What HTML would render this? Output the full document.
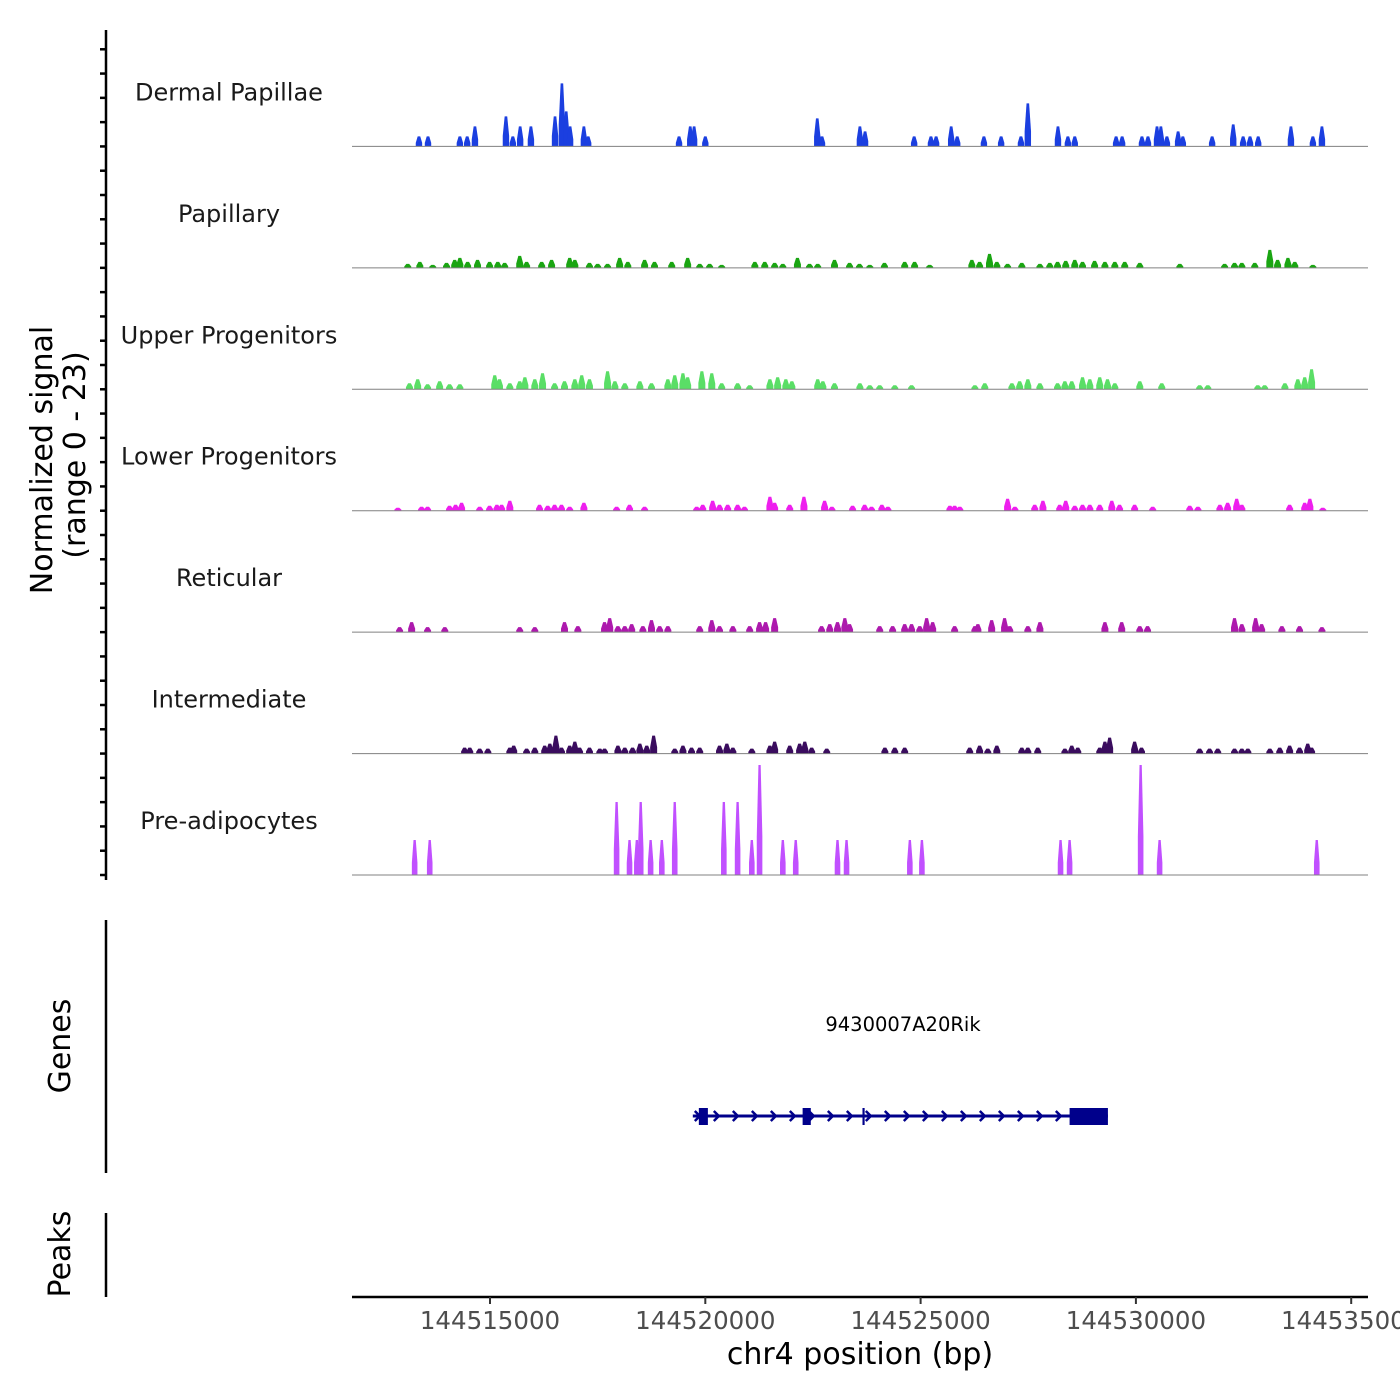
<!DOCTYPE html>
<html><head><meta charset="utf-8"><style>
html,body{margin:0;padding:0;background:#fff;}
svg{display:block;font-family:"DejaVu Sans","Liberation Sans",sans-serif;}
</style></head><body>
<svg id="chart" width="1400" height="1400" viewBox="0 0 1400 1400" xmlns="http://www.w3.org/2000/svg">
<g id="tracks"></g>
<g id="yaxis">
<line x1="106" y1="30" x2="106" y2="880" stroke="#000" stroke-width="2.5"/>
</g>
<text transform="translate(52,460) rotate(-90)" text-anchor="middle" font-size="30" fill="#000">Normalized signal</text>
<text transform="translate(85,455) rotate(-90)" text-anchor="middle" font-size="30" fill="#000">(range 0 - 23)</text>
<line x1="106" y1="920" x2="106" y2="1173" stroke="#000" stroke-width="2.5"/>
<text transform="translate(70,1046) rotate(-90)" text-anchor="middle" font-size="30" fill="#000">Genes</text>
<line x1="106" y1="1213" x2="106" y2="1297" stroke="#000" stroke-width="2.5"/>
<text transform="translate(70,1254) rotate(-90)" text-anchor="middle" font-size="30" fill="#000">Peaks</text>
<g id="gene"></g>
<text x="903" y="1031" text-anchor="middle" font-size="19.5" fill="#000">9430007A20Rik</text>
<g id="xaxis"></g>
<text x="860" y="1364" text-anchor="middle" font-size="30" fill="#000">chr4 position (bp)</text>
</svg>
<script>
// genomic positions in kb offset from 144510000
const trackNames = ["Dermal Papillae","Papillary","Upper Progenitors","Lower Progenitors","Reticular","Intermediate","Pre-adipocytes"];
const dermalPos = [3.35,3.56,4.30,4.47,4.65,5.37,5.53,5.70,5.95,6.51,6.67,6.77,6.86,7.18,7.28,9.39,9.65,9.74,10.0,12.6,12.71,13.59,13.71,14.85,15.24,15.36,15.71,15.85,16.47,16.87,17.33,17.49,18.19,18.42,18.58,19.54,19.68,20.14,20.28,20.49,20.58,20.72,20.98,21.09,21.77,22.26,22.49,22.65,22.84,23.6,24.11,24.32];
const dermalVal = [2,2,2,2,4,6,2,4,4,6,12.6,7,4,4,2,2,4,4,2,5.6,2,4,3,2,2,2,4,2,2,2,2,8.6,4,2,2,2,2,2,2,4,4,2,3,2,2,4.4,2,2,2,4,2,4];
const papPos = [3.09,3.37,3.67,3.99,4.18,4.30,4.48,4.71,4.99,5.18,5.34,5.69,5.85,6.20,6.43,6.85,6.97,7.31,7.50,7.73,8.01,8.20,8.59,8.82,9.22,9.59,9.87,10.10,10.38,11.15,11.38,11.61,11.80,12.14,12.42,12.61,13.00,13.35,13.58,13.82,14.16,14.63,14.86,15.21,16.19,16.37,16.60,16.77,17.02,17.35,17.77,18.00,18.18,18.37,18.58,18.76,19.04,19.28,19.51,19.74,20.09,21.02,22.06,22.29,22.46,22.76,23.11,23.29,23.53,23.69,24.11];
const papVal = [0.8,1.2,0.6,1,1.6,2,1.2,1.6,1.2,1.2,1,2.4,1.2,1.2,1.6,2,1.6,1,0.8,0.8,2,1.2,1.6,1.2,1.2,2,0.8,0.8,0.6,1.2,1.2,1,0.8,2,0.8,0.8,1.6,1,0.8,0.6,1,1.2,1.2,0.6,1.6,1.2,2.8,1.2,0.8,1,0.8,1,1.2,1.4,1.6,1.2,1.4,1.2,1.2,1.2,1,0.8,0.8,1,1,1,3.6,1.6,2,1.2,0.6];
const upPos = [3.13,3.32,3.55,3.83,4.06,4.30,5.11,5.22,5.46,5.69,5.81,6.04,6.22,6.50,6.73,6.97,7.13,7.31,7.73,7.90,8.13,8.48,8.75,9.13,9.29,9.48,9.59,9.92,10.15,10.38,10.75,11.03,11.50,11.68,11.87,12.01,12.61,12.73,13.00,13.59,13.82,14.05,14.40,14.79,16.26,16.49,17.12,17.30,17.49,17.77,18.18,18.35,18.51,18.76,18.93,19.16,19.34,19.51,20.09,20.60,21.48,21.67,22.83,22.99,23.46,23.76,23.92,24.08];
const upVal = [1.2,2,1,1.6,1,1,2.8,2,1.2,1.6,2.4,2,3.2,1.2,1.6,2,2.8,2,3.6,1.6,1.2,1.6,1.2,2,2.8,3.2,2.4,3.6,3.2,1.2,1.2,0.8,2,2.4,2,1.6,2,1.6,1.2,1.2,0.8,0.8,0.8,0.8,0.8,1.2,1.2,1.6,2,1.2,1.2,1.6,1.6,2.4,2,2.4,2,1.2,1.6,1.2,0.8,0.8,0.8,0.8,1.2,2,2.4,4];
const lowPos = [2.86,3.41,3.55,4.06,4.20,4.34,4.76,4.99,5.16,5.27,5.46,6.15,6.34,6.50,6.66,6.85,7.18,7.94,8.24,8.59,9.80,9.94,10.17,10.33,10.52,10.75,10.91,11.50,11.61,11.96,12.29,12.77,12.94,13.42,13.70,13.86,14.10,14.24,15.68,15.79,15.91,17.02,17.19,17.65,17.84,18.23,18.37,18.58,18.76,18.93,19.16,19.44,19.62,19.97,20.39,21.25,21.44,21.95,22.13,22.34,22.46,23.57,23.92,24.04,24.34];
const lowVal = [0.6,0.8,0.8,1,1.2,1.6,0.8,1,1.2,1.2,2,1.2,1,1.2,1.2,0.8,1.6,0.8,1.2,0.8,0.8,1.2,2,1.2,1.2,1.2,0.8,2.8,1.6,1.2,2.8,2,0.8,1,1.2,0.8,1.2,0.8,1,1,0.8,2.4,0.8,1.2,2,1.2,2,1,1.2,1.2,1.2,2,1.2,1.2,0.8,1,0.8,1.2,1.6,2.4,1.2,1.2,1.6,2.4,0.6];
const retPos = [2.90,3.18,3.55,3.95,5.69,6.04,6.73,7.04,7.66,7.78,7.97,8.13,8.29,8.55,8.75,8.94,9.13,9.87,10.15,10.33,10.64,11.03,11.26,11.40,11.61,12.70,12.89,13.07,13.24,13.35,14.05,14.35,14.63,14.79,14.98,15.14,15.28,15.79,16.26,16.33,16.65,16.95,17.07,17.49,17.77,19.28,19.67,20.09,20.27,22.29,22.46,22.78,22.92,23.39,23.80,24.32];
const retVal = [1,2,1,1,1,1,2,1.2,2,2.8,1.2,1.2,1.6,1.2,2.4,1.2,1.2,1.2,2.4,1.2,1.2,1.2,2,2,2.8,1.2,1.6,2,2.8,1.6,1.2,1.2,1.6,1.6,1.2,2.8,2,1.2,1.2,1.6,2.4,2.8,1.2,1.2,2,2,2,1.2,1.2,2.8,1.6,2.8,1.6,1.2,1.2,1];
const intPos = [4.41,4.53,4.76,4.95,5.46,5.55,5.85,6.04,6.27,6.39,6.53,6.66,6.85,6.97,7.08,7.31,7.55,7.66,7.97,8.13,8.31,8.48,8.64,8.80,9.29,9.48,9.68,9.87,10.33,10.50,10.64,11.08,11.50,11.61,11.96,12.19,12.31,12.47,12.82,14.17,14.40,14.63,16.14,16.37,16.56,16.77,17.35,17.49,17.72,18.35,18.51,18.65,19.16,19.28,19.39,19.97,20.13,21.48,21.71,21.90,22.29,22.46,22.60,23.11,23.34,23.57,23.80,23.99,24.08];
const intVal = [1.2,1.2,1,1,1.2,1.6,1,1.2,1.6,2,3.6,1.2,1.6,2.4,1.2,1.2,1,1,1.6,1.2,1.2,2,1.6,3.6,1,1.6,1.2,1.2,1.6,2,1.2,1,1.6,2.4,1.6,2,2.4,1.2,1,1.2,1.2,1.2,1.2,1.6,1,1.6,1.2,1.2,1.2,1,1.6,1.2,1.2,2.4,3.2,2.4,1.2,1,1,1,1,1,1,1,1.2,1.6,1.2,2,1.2];
const prePos = [3.25,3.60,7.94,8.24,8.41,8.50,8.73,8.99,9.29,10.43,10.75,11.08,11.26,11.80,12.10,13.07,13.28,14.75,15.03,18.25,18.46,20.11,20.55,24.20];
const preVal = [7,7,14.6,7,7,14.6,7,7,14.6,14.6,14.6,7,22,7,7,7,7,7,7,7,7,22,7,7];
const xTicks = [144515000,144520000,144525000,144530000,144535000];
const xTickLabels = ["144515000","144520000","144525000","144530000","144535000"];
const exonStarts = [9.85,12.26,13.65,18.46];
const exonEnds = [10.06,12.45,13.70,19.35];
const geneStart = 9.71, geneEnd = 19.35;

const NS="http://www.w3.org/2000/svg";
const X0=352, X1=1368, KB0=1.795, KB1=25.39;
function xs(kb){return X0+(kb-KB0)/(KB1-KB0)*(X1-X0);}
function xbp(bp){return xs((bp-144510000)/1000);}
const TOP=25, TH=(875-25)/7, VMAX=23, HPX=115;
function ys(v){return v/VMAX*HPX;}
function mk(tag,attrs,parent){const e=document.createElementNS(NS,tag);for(const k in attrs)e.setAttribute(k,attrs[k]);parent.appendChild(e);return e;}

const series=[[dermalPos,dermalVal,"#1b3fe0",3.2],[papPos,papVal,"#1aa512",3.5],[upPos,upVal,"#5ade66",3.5],[lowPos,lowVal,"#ee1fee",3.5],[retPos,retVal,"#ad19ad",3.5],[intPos,intVal,"#3a0c5e",3.5],[prePos,preVal,"#c150ff",2.8]];
const tg=document.getElementById('tracks');
series.forEach((s,i)=>{
  const base=TOP+TH*(i+1);
  const g=mk('g',{},tg);
  
  
  const lab=mk('text',{x:229,y:base-46,'text-anchor':'middle','font-size':24,fill:'#1a1a1a'},g);
  lab.textContent=trackNames[i];
  
  
  const [pos,val,col,hw]=s;
  pos.forEach((p,j)=>{
    const x=xs(p), h=ys(val[j]);
    const pts=[[x-hw,base],[x-hw,base-h*0.35],[x-hw*0.4,base-h],[x+hw*0.4,base-h],[x+hw,base-h*0.35],[x+hw,base]];
    const pk=mk('polygon',{points:pts.map(q=>q.join(',')).join(' '),fill:col},g);
    
    
  });
  const bl=mk('line',{x1:X0,y1:base,x2:X1,y2:base,stroke:'#808080','stroke-width':1},g);
  
  
});
// y ticks
const ya=document.getElementById('yaxis');
for(let y=875;y>=40;y-=TH/5){
  const t=mk('line',{x1:100,y1:y,x2:106,y2:y,stroke:'#000','stroke-width':2.5},ya);
  
  
}
// gene
const gg=document.getElementById('gene');
const GY=1116, C='#00008b';
mk('line',{x1:xs(geneStart),y1:GY,x2:xs(geneEnd),y2:GY,stroke:C,'stroke-width':3},gg);
for(let x=xs(geneStart)+2;x<xs(geneEnd)-30;x+=19){
  const a=mk('polyline',{points:`${x},${GY-5} ${x+5},${GY} ${x},${GY+5}`,fill:'none',stroke:C,'stroke-width':2.5},gg);
  
  
}
exonStarts.forEach((s,i)=>{
  const r=mk('rect',{x:xs(s),y:GY-8,width:Math.max(2,xs(exonEnds[i])-xs(s)),height:17,fill:C},gg);
  
  
});
// x axis
const xa=document.getElementById('xaxis');
mk('line',{x1:X0,y1:1297,x2:X1,y2:1297,stroke:'#000','stroke-width':2.5},xa);
xTicks.forEach((b,i)=>{
  const x=xbp(b);
  mk('line',{x1:x,y1:1297,x2:x,y2:1304,stroke:'#333','stroke-width':2},xa);
  const t=mk('text',{x:x,y:1329,'text-anchor':'middle','font-size':24.5,fill:'#4d4d4d'},xa);
  t.textContent=xTickLabels[i];
  
  
});
</script>
</body></html>
